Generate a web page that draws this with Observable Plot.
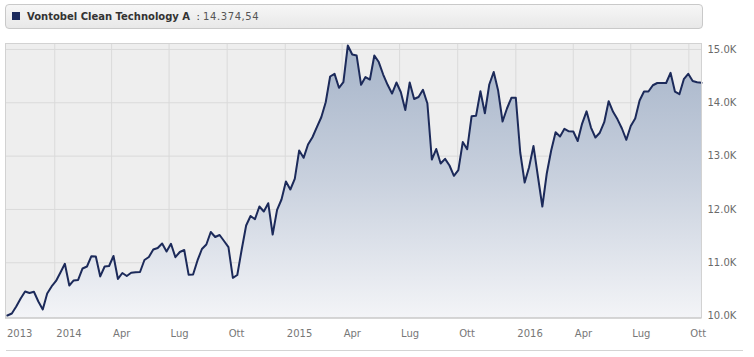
<!DOCTYPE html>
<html><head><meta charset="utf-8">
<script src="https://cdn.jsdelivr.net/npm/d3@7"></script>
<script src="https://cdn.jsdelivr.net/npm/@observablehq/plot@0.6"></script>
<style>
body{margin:0;background:#fff;font-family:"DejaVu Sans",Verdana,sans-serif;}
#wrap{position:relative;width:754px;height:357px;overflow:hidden;background:#fff;}
#legend{position:absolute;left:5px;top:4px;width:696px;height:23px;border:1px solid #c9c9c9;border-radius:4px;background:linear-gradient(#f6f6f6,#e8e8e8);box-sizing:content-box;}
#sw{position:absolute;left:6px;top:7px;width:8px;height:8px;background:#1b2a5c;}
#lt{position:absolute;left:21px;top:6px;font-size:10px;line-height:12px;white-space:nowrap;color:#333;}
#lt b{font-weight:bold;}
#lt span{color:#555;letter-spacing:0.6px;}
#chart{position:absolute;left:0;top:31px;}
#rule{position:absolute;left:6px;top:350px;width:737px;height:1px;background:#d4d4d4;}
</style></head>
<body><div id="wrap">
<div id="legend"><div id="sw"></div><div id="lt"><b>Vontobel Clean Technology A</b>&nbsp; : <span>14.374,54</span></div></div>
<div id="chart"></div>
<div id="rule"></div>
</div>
<script>
const seriesName = "Vontobel Clean Technology A";
const startDate = "2013-10-18"; // weekly observations
const values = [
10011,10049,10180,10330,10461,10433,10456,10274,10124,10424,
10555,10658,10818,10981,10574,10668,10677,10893,10930,11123,
11118,10743,10930,10939,11127,10696,10808,10752,10812,10823,
10827,11052,11108,11249,11277,11361,11211,11356,11104,11202,
11239,10774,10780,11043,11258,11343,11577,11483,11521,11408,
11292,10718,10771,11249,11699,11877,11817,12055,11961,12117,
11530,11993,12186,12524,12374,12574,13105,12968,13218,13354,
13542,13729,14011,14493,14543,14281,14386,15074,14905,14886,
14337,14483,14436,14886,14764,14530,14337,14174,14380,14198,
13864,14380,14071,14108,14243,13986,12936,13133,12861,12949,
12824,12631,12739,13264,13129,13748,13756,14217,13804,14343,
14577,14230,13649,13893,14093,14093,13068,12505,12792,13189,
12618,12055,12674,13105,13448,13368,13512,13465,13461,13283,
13611,13840,13536,13349,13439,13636,14029,13831,13690,13518,
13306,13564,13705,14043,14211,14211,14329,14371,14371,14371,
14562,14208,14161,14442,14543,14408,14386,14374.54
];
const yTicks = [10000, 11000, 12000, 13000, 14000, 15000];
const xTickDates = ["2013-10-15","2014-01-01","2014-04-01","2014-07-01","2014-10-01","2015-01-01","2015-04-01","2015-07-01","2015-10-01","2016-01-01","2016-04-01","2016-07-01","2016-10-01"];
const xTickLabels = ["2013","2014","Apr","Lug","Ott","2015","Apr","Lug","Ott","2016","Apr","Lug","Ott"];

const start = new Date(startDate);
const data = values.map((v, i) => ({date: d3.utcDay.offset(start, 7 * i), value: v}));
const tickDates = xTickDates.map(s => new Date(s));
const labelMap = new Map(tickDates.map((d, i) => [+d, xTickLabels[i]]));
const gridDates = tickDates.slice(1);
const yMin = 9964, yMax = 15112;

const plot = Plot.plot({
  width: 754, height: 326,
  marginLeft: 5, marginRight: 53, marginTop: 12, marginBottom: 39.5,
  x: {type: "utc", domain: [new Date("2013-10-15"), new Date("2016-10-21")], label: null},
  y: {domain: [yMin, yMax], label: null},
  style: {fontFamily: "DejaVu Sans, Verdana, sans-serif", fontSize: "10px", background: "transparent", overflow: "visible"},
  marks: [
    Plot.frame({fill: "#eeeeee", stroke: null}),
    Plot.gridY(yTicks.slice(1), {stroke: "#dadada", strokeOpacity: 1}),
    Plot.gridX(gridDates, {stroke: "#dadada", strokeOpacity: 1}),
    Plot.areaY(data, {x: "date", y1: yMin, y2: "value", fill: "url(#areaGrad)"}),
    Plot.lineY(data, {x: "date", y: "value", stroke: "#1c2a5a", strokeWidth: 2}),
    Plot.frame({stroke: "#d2d2d2"}),
    Plot.ruleY([yMin], {stroke: "#c4c4c4"}),
    Plot.axisY(yTicks, {anchor: "right", label: null, tickSize: 0, tickPadding: 6, color: "#6a6a6a",
      tickFormat: d => (d / 1000).toFixed(1) + "K"}),
    Plot.axisX(tickDates, {anchor: "bottom", label: null, tickSize: 0, tickPadding: 11.5, textAnchor: "start", dx: 1.5,
      color: "#777", tickFormat: d => labelMap.get(+d)})
  ]
});
const ns = "http://www.w3.org/2000/svg";
const defs = document.createElementNS(ns, "defs");
defs.innerHTML = '<linearGradient id="areaGrad" x1="0" y1="0" x2="0" y2="1"><stop offset="0" stop-color="#a6b4c9"/><stop offset="0.5" stop-color="#c9d1de"/><stop offset="1" stop-color="#f3f4f7"/></linearGradient>';
plot.insertBefore(defs, plot.firstChild);
document.getElementById("chart").appendChild(plot);
</script>
</body></html>
